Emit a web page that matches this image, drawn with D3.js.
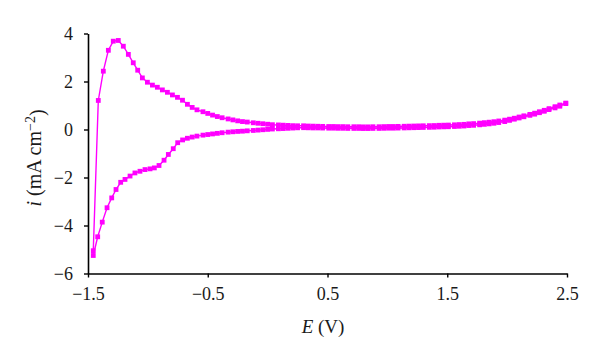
<!DOCTYPE html>
<html>
<head>
<meta charset="utf-8">
<script src="https://cdn.jsdelivr.net/npm/d3@7"></script>
<style>
  html, body { margin: 0; padding: 0; background: #fff; }
  svg { display: block; }
</style>
</head>
<body>
<svg id="chart" width="600" height="357"></svg>
<script>
// ---- data ----
// Reverse (cathodic) sweep, in sweep order from 2.49 V down to -1.456 V
const reverseE = [2.49, 2.44, 2.40, 2.35, 2.31, 2.27, 2.23, 2.19, 2.14, 2.10, 2.06, 2.02, 1.98, 1.93, 1.89, 1.85, 1.81, 1.77, 1.72, 1.68,
  1.64, 1.60, 1.56, 1.51, 1.47, 1.43, 1.39, 1.35, 1.30, 1.26, 1.22, 1.18, 1.14, 1.09, 1.05, 1.01, 0.97, 0.93, 0.88, 0.84,
  0.80, 0.76, 0.72, 0.67, 0.63, 0.59, 0.55, 0.51, 0.46, 0.42, 0.38, 0.34, 0.30, 0.25, 0.21, 0.17, 0.13, 0.09, 0.04, 0.00,
  -0.04, -0.08, -0.12, -0.17, -0.21, -0.25, -0.29, -0.33, -0.38, -0.42, -0.46, -0.50, -0.54, -0.59, -0.63, -0.67, -0.71,
  -0.751, -0.788, -0.829, -0.865, -0.907, -0.946, -0.982, -1.024, -1.066, -1.108, -1.149, -1.191, -1.227, -1.266, -1.302,
  -1.341, -1.381, -1.419, -1.456];
const reverseI = [1.08, 0.97, 0.90, 0.83, 0.76, 0.70, 0.64, 0.59, 0.53, 0.48, 0.43, 0.38, 0.33, 0.29, 0.26, 0.235, 0.215, 0.195, 0.175, 0.165,
  0.145, 0.135, 0.125, 0.115, 0.11, 0.105, 0.095, 0.09, 0.085, 0.08, 0.075, 0.07, 0.065, 0.06, 0.055, 0.055, 0.05, 0.045, 0.045, 0.04,
  0.04, 0.045, 0.045, 0.045, 0.05, 0.05, 0.055, 0.055, 0.06, 0.065, 0.065, 0.07, 0.075, 0.07, 0.06, 0.05, 0.04, 0.03, 0.02, 0.005,
  -0.01, -0.025, -0.04, -0.055, -0.07, -0.08, -0.095, -0.11, -0.135, -0.16, -0.185, -0.21, -0.235, -0.275, -0.315, -0.365, -0.435,
  -0.55, -0.80, -1.04, -1.28, -1.50, -1.60, -1.64, -1.67, -1.74, -1.81, -1.94, -2.08, -2.20, -2.50, -2.85,
  -3.26, -3.86, -4.47, -5.25];

// Forward (anodic) sweep, in sweep order from -1.456 V up to 2.49 V
const forwardE = [-1.456, -1.414, -1.372, -1.330, -1.289, -1.247, -1.205, -1.163, -1.122, -1.085, -1.046, -1.004, -0.962, -0.921,
  -0.879, -0.837, -0.795, -0.753, -0.711, -0.67, -0.63, -0.59, -0.54, -0.50, -0.46, -0.42, -0.38, -0.33, -0.29, -0.25, -0.21,
  -0.17, -0.12, -0.08, -0.04, 0.00, 0.04, 0.09, 0.13, 0.17, 0.21, 0.25, 0.30, 0.34, 0.38, 0.42, 0.46, 0.51, 0.55, 0.59, 0.63,
  0.67, 0.72, 0.76, 0.80, 0.84, 0.88, 0.93, 0.97, 1.01, 1.05, 1.09, 1.14, 1.18, 1.22, 1.26, 1.30, 1.35, 1.39, 1.43, 1.47, 1.51,
  1.56, 1.60, 1.64, 1.68, 1.72, 1.77, 1.81, 1.85, 1.89, 1.93, 1.98, 2.02, 2.06, 2.10, 2.14, 2.19, 2.23, 2.27, 2.31, 2.35, 2.40,
  2.44, 2.49];
const forwardI = [-5.05, 1.21, 2.43, 3.30, 3.68, 3.71, 3.47, 3.13, 2.78, 2.47, 2.15, 1.97, 1.85, 1.76,
  1.65, 1.55, 1.44, 1.34, 1.22, 1.05, 0.92, 0.82, 0.74, 0.67, 0.60, 0.54, 0.49, 0.44, 0.40, 0.36, 0.33,
  0.31, 0.28, 0.26, 0.24, 0.22, 0.20, 0.19, 0.18, 0.17, 0.16, 0.155, 0.155, 0.145, 0.14, 0.135, 0.13, 0.125, 0.125, 0.12, 0.12,
  0.115, 0.115, 0.115, 0.11, 0.11, 0.115, 0.115, 0.12, 0.125, 0.125, 0.13, 0.135, 0.14, 0.145, 0.15, 0.155, 0.16, 0.165, 0.175, 0.18, 0.185,
  0.195, 0.205, 0.215, 0.235, 0.245, 0.265, 0.285, 0.305, 0.325, 0.355, 0.39, 0.43, 0.47, 0.52, 0.57, 0.63, 0.68, 0.74, 0.80, 0.87, 0.95,
  1.02, 1.10];

const xTicks = [-1.5, -0.5, 0.5, 1.5, 2.5];
const yTicks = [-6, -4, -2, 0, 2, 4];

// ---- chart ----
const svg = d3.select("#chart");
const color = "#ff00ff";
const fontFamily = "'Liberation Serif', 'DejaVu Serif', serif";

const x = d3.scaleLinear().domain([-1.5, 2.5]).range([88, 567]);
const y = d3.scaleLinear().domain([-6, 4]).range([273.5, 33.5]);

const points = [];
reverseE.forEach((e, k) => points.push([e, reverseI[k]]));
forwardE.forEach((e, k) => points.push([e, forwardI[k]]));

const line = d3.line().x(d => x(d[0])).y(d => y(d[1]));

svg.append("path")
  .datum(points)
  .attr("d", line)
  .attr("fill", "none")
  .attr("stroke", color)
  .attr("stroke-width", 1.4);

const ms = 4.8;
svg.append("g").selectAll("rect")
  .data(points)
  .join("rect")
  .attr("x", d => x(d[0]) - ms / 2)
  .attr("y", d => y(d[1]) - ms / 2)
  .attr("width", ms)
  .attr("height", ms)
  .attr("fill", color);

// axes
const fmtY = d => d3.format("d")(d);
const xAxis = d3.axisBottom(x).tickValues(xTicks).tickSize(4).tickSizeOuter(0).tickPadding(10)
  .tickFormat(d3.format(".1f"));
const yAxis = d3.axisLeft(y).tickValues(yTicks).tickSize(4).tickSizeOuter(0).tickPadding(11)
  .tickFormat(fmtY);

const gx = svg.append("g").attr("transform", `translate(0,${y(-6)})`).call(xAxis);
const gy = svg.append("g").attr("transform", `translate(${x(-1.5)},0)`).call(yAxis);

[gx, gy].forEach(g => {
  g.select(".domain").attr("stroke", "#000").attr("stroke-width", 1.6);
  g.selectAll(".tick line").attr("stroke", "#000").attr("stroke-width", 1.4);
  g.selectAll(".tick text").attr("fill", "#1a1a1a").style("font-family", fontFamily).style("font-size", "18px");
});

// axis titles
const xt = svg.append("text")
  .attr("x", 323).attr("y", 333)
  .attr("text-anchor", "middle")
  .style("font-family", fontFamily).style("font-size", "19px").attr("fill", "#1a1a1a");
xt.append("tspan").style("font-style", "italic").text("E");
xt.append("tspan").text(" (V)");

const yt = svg.append("text")
  .attr("transform", "translate(41,158) rotate(-90)")
  .attr("text-anchor", "middle")
  .style("font-family", fontFamily).style("font-size", "20px").attr("fill", "#1a1a1a");
yt.append("tspan").style("font-style", "italic").text("i");
yt.append("tspan").text(" (mA cm");
yt.append("tspan").attr("dy", "-0.45em").style("font-size", "14px").text("−2");
yt.append("tspan").attr("dy", "0.45em").text(")");
</script>
</body>
</html>
